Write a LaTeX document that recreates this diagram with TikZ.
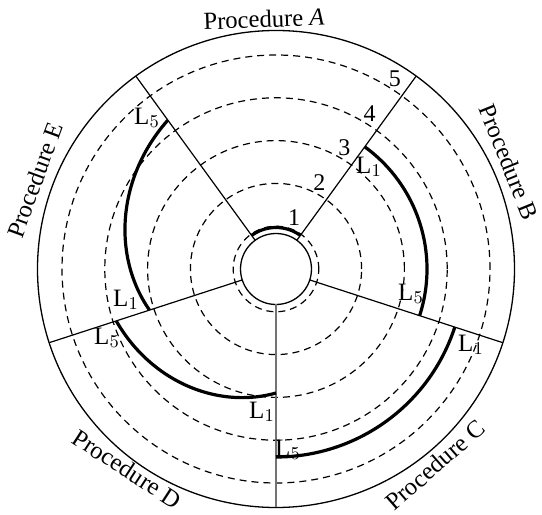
\documentclass[tikz,border=0pt]{standalone}
\usepackage{fontspec}
\setmainfont{Liberation Serif}
\usetikzlibrary{calc}
\begin{document}
\begin{tikzpicture}[x=0.5pt,y=0.5pt,
  ring/.style={line width=0.65pt},
  lvl/.style={dash pattern=on 3.5pt off 2.5pt, line width=0.6pt},
  spoke/.style={line width=0.6pt},
  thickarc/.style={line width=1.6pt},
  proc/.style={font=\fontsize{12.3}{14}\selectfont, inner sep=0pt},
  lab/.style={font=\fontsize{12.5}{14}\selectfont, inner sep=0pt},
  num/.style={font=\fontsize{12}{14}\selectfont, inner sep=0pt}]
\useasboundingbox (0,0) rectangle (542,515);
\begin{scope}[shift={(276,246)}]
  \coordinate (O) at (0,0);
  % circles
  \draw[ring] (O) circle (238.5);
  \draw[ring] (O) circle (35.5);
  \foreach \k in {1,...,5}{\draw[lvl] (O) circle ({42.8*\k});}
  % spokes
  \foreach \a in {54,126,198,342}{\draw[spoke] (\a:35.5) -- (\a:238.5);}
  \draw[spoke, draw=black!55] (270:35.5) -- (270:238.5);
  % thick arcs
  \draw[thickarc] (126:41.5) arc[start angle=126, end angle=54, radius=41.5];
  \draw[thickarc] (54:151) arc[start angle=54, end angle=-18, radius=151];
  \draw[thickarc] (-18:188) arc[start angle=-18, end angle=-90, radius=188];
  \draw[thickarc] plot[domain=0:1, samples=50, smooth] ({-90-72*\x}:{124+44*\x});
  \draw[thickarc] plot[domain=0:1, samples=50, smooth] ({-162-72*\x}:{133+51*\x});
  % level numbers
  \foreach \k in {1,...,5}{
    \node[num] (n\k) at ($(54:{42.8*\k})+(-7,17)$) {\k};
  }
  % L labels
  \node[lab] (bL1) at (93,102) {L$_1$};
  \node[lab] (bL5) at (135,-25) {L$_5$};
  \node[lab] (cL1) at (195,-76) {L$_1$};
  \node[lab] (cL5) at (12,-181) {L$_5$};
  \node[lab] (dL1) at (-14,-143) {L$_1$};
  \node[lab] (dL5) at (-169,-69) {L$_5$};
  \node[lab] (eL1) at (-150,-31) {L$_1$};
  \node[lab] (eL5) at (-129,151) {L$_5$};
  % procedure labels
  \node[proc, rotate=2] (pA) at (-12,250) {Procedure \textit{A}};
  \node[proc, rotate=-68] (pB) at (233,107) {Procedure B};
  \node[proc, rotate=41] (pC) at (159,-196) {Procedure C};
  \node[proc, rotate=-33] (pD) at (-149,-200) {Procedure D};
  \node[proc, rotate=70] (pE) at (-241,89) {Procedure E};
\end{scope}
\end{tikzpicture}
\end{document}
